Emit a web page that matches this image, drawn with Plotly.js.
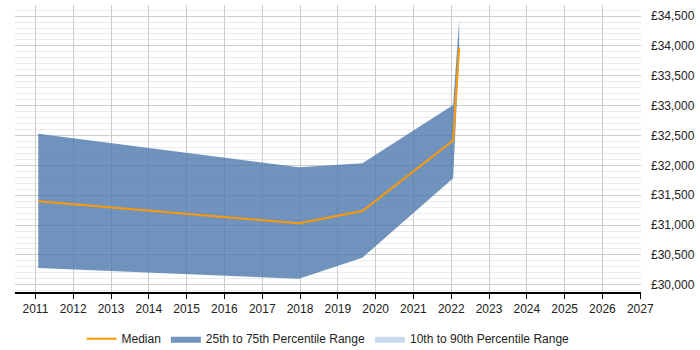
<!DOCTYPE html>
<html>
<head>
<meta charset="utf-8">
<script src="https://cdn.plot.ly/plotly-3.0.1.min.js"></script>
<style>
  html, body { margin: 0; padding: 0; background: #fff; }
  #chart { width: 700px; height: 350px; }
</style>
</head>
<body>
<div id="chart"></div>
<script>
// Salary percentiles over time (decimal years)
const dates = [2011.075, 2017.97, 2019.65, 2022.05, 2022.21];
const p25 = [30280, 30100, 30455, 31785, 33920];
const median = [31400, 31030, 31235, 32415, 33970];
const p75 = [32530, 31970, 32035, 33010, 34440];

const yTicks = [30000, 30500, 31000, 31500, 32000, 32500, 33000, 33500, 34000, 34500];
const yTickLabels = yTicks.map(v => '£' + v.toLocaleString('en-GB'));
const xTicks = [2011, 2012, 2013, 2014, 2015, 2016, 2017, 2018, 2019, 2020, 2021, 2022, 2023, 2024, 2025, 2026, 2027];

const bandFill = 'rgba(72,118,170,0.78)';

const traces = [
  {
    x: dates, y: p25, type: 'scatter', mode: 'lines',
    line: { width: 0, color: bandFill }, showlegend: false, hoverinfo: 'skip'
  },
  {
    x: dates, y: p75, type: 'scatter', mode: 'lines', fill: 'tonexty',
    fillcolor: bandFill, line: { width: 0, color: bandFill },
    name: '25th to 75th Percentile Range', legendrank: 2
  },
  {
    x: dates, y: median, type: 'scatter', mode: 'lines',
    line: { width: 2, color: '#ff9900' }, name: 'Median', legendrank: 1
  },
  {
    x: [null], y: [null], type: 'scatter', mode: 'lines', fill: 'toself',
    fillcolor: 'rgba(200,218,238,1)', line: { width: 0, color: 'rgba(200,218,238,1)' },
    name: '10th to 90th Percentile Range', legendrank: 3
  }
];

const layout = {
  width: 700, height: 350,
  margin: { l: 15, r: 59, t: 5, b: 58, autoexpand: false },
  paper_bgcolor: '#fff', plot_bgcolor: '#fff',
  font: { family: 'Liberation Sans, Arial, sans-serif', size: 12, color: '#222' },
  showlegend: true,
  legend: {
    orientation: 'h', x: 0.5, xanchor: 'center', y: -0.112, yanchor: 'top',
    font: { size: 12, color: '#222' }, itemwidth: 30, traceorder: 'normal'
  },
  xaxis: {
    range: [2010.46, 2027.02], tickvals: xTicks, ticktext: xTicks.map(String),
    showgrid: true, gridcolor: '#cccccc', gridwidth: 1,
    showline: true, linecolor: '#000', linewidth: 1.5,
    ticks: 'outside', ticklen: 5, tickcolor: '#000', zeroline: false,
    tickfont: { size: 12, color: '#222' }, automargin: false
  },
  yaxis: {
    range: [29880, 34685], side: 'right',
    tickvals: yTicks, ticktext: yTickLabels,
    showgrid: true, gridcolor: '#cccccc', gridwidth: 1,
    minor: { dtick: 100, showgrid: true, gridcolor: '#ebebeb', gridwidth: 1 },
    showline: false, zeroline: false, ticks: '', ticklabelstandoff: 9,
    tickfont: { size: 12, color: '#222' }, automargin: false
  }
};

Plotly.newPlot('chart', traces, layout, { displayModeBar: false, staticPlot: true });
</script>
</body>
</html>
